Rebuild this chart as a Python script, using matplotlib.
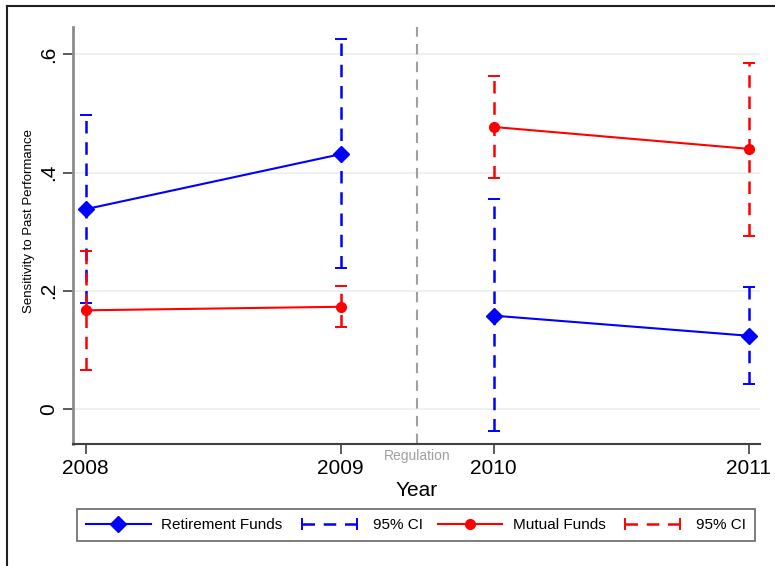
import matplotlib
matplotlib.use("Agg")
import matplotlib.pyplot as plt
from matplotlib.lines import Line2D
from matplotlib.legend_handler import HandlerLine2D

plt.rcParams['font.family'] = ['Liberation Sans', 'DejaVu Sans']

# data
years = ["2008", "2009", "2010", "2011"]
xpos = [0, 1, 1.6, 2.6]          # gap after regulation is narrower
reg_x = 1.3

ret = [0.338, 0.431, 0.158, 0.124]
ret_lo = [0.180, 0.238, -0.037, 0.043]
ret_hi = [0.497, 0.626, 0.356, 0.207]

mut = [0.167, 0.173, 0.477, 0.440]
mut_lo = [0.066, 0.138, 0.390, 0.293]
mut_hi = [0.267, 0.208, 0.563, 0.585]

yticks = [0, 0.2, 0.4, 0.6]
ylabels = ["0", ".2", ".4", ".6"]

fig = plt.figure(figsize=(7.75, 5.66), dpi=100)
ax = fig.add_axes([73/775, 1 - 444/566, (760 - 73)/775, (444 - 27)/566])

for y in yticks:
    ax.axhline(y, color='#eaf0f1', lw=1.3, zorder=0)

ax.axvline(reg_x, color='#a0a0a0', lw=1.5, ls=(0, (5, 3.5)), zorder=1)


def ci(x, lo, hi, col):
    for xi, l, h in zip(x, lo, hi):
        ax.plot([xi, xi], [l, h], color=col, lw=1.8, ls=(0, (5, 3.5)), zorder=2)
        ax.plot([xi, xi], [l, h], color=col, lw=0, marker='_', ms=9, mew=1.4, zorder=2)


ci(xpos, ret_lo, ret_hi, 'blue')
ci(xpos, mut_lo, mut_hi, 'red')

# solid lines break at the regulation
for a, b in [(0, 2), (2, 4)]:
    ax.plot(xpos[a:b], ret[a:b], color='blue', lw=1.5, marker='D', ms=8.5, zorder=3)
    ax.plot(xpos[a:b], mut[a:b], color='red', lw=1.5, marker='o', ms=7, zorder=3)

ax.set_xlim(-0.05, 2.645)
ax.set_ylim(-0.059, 0.646)
ax.set_xticks(xpos)
ax.set_xticklabels(years, fontsize=15)
ax.set_yticks(yticks)
ax.set_yticklabels(ylabels, fontsize=15, rotation=90, va='center')
ax.tick_params(axis='both', length=7, width=1.2, color='#404040', pad=4)

for s in ['top', 'right']:
    ax.spines[s].set_visible(False)
ax.spines['left'].set_color('#8c8c8c')
ax.spines['left'].set_linewidth(2)
ax.spines['bottom'].set_color('#404040')
ax.spines['bottom'].set_linewidth(1.5)

ax.set_xlabel("Year", fontsize=15, labelpad=2)
ax.set_ylabel("Sensitivity to Past Performance", fontsize=9.5, labelpad=2.5)
ax.yaxis.label.set_y(0.535)
ax.text(reg_x, -0.068, "Regulation", color='#a0a0a0', fontsize=10,
        ha='center', va='top', transform=ax.transData)

h_ret = Line2D([], [], color='blue', lw=1.5, marker='D', ms=8.5)
h_rci = Line2D([], [], color='blue', lw=1.8, ls=(0, (5, 3.5)), marker='|', ms=9, mew=1.4)
h_mut = Line2D([], [], color='red', lw=1.5, marker='o', ms=7)
h_mci = Line2D([], [], color='red', lw=1.8, ls=(0, (5, 3.5)), marker='|', ms=9, mew=1.4)
leg = fig.legend([h_ret, h_rci, h_mut, h_mci],
                 ["Retirement Funds", "95% CI", "Mutual Funds", "95% CI"],
                 ncol=4, loc='center', bbox_to_anchor=(416/775, 1 - 525/566),
                 fontsize=11, frameon=True, fancybox=False, handlelength=4.2,
                 handletextpad=0.7, columnspacing=1.0, borderpad=0.6,
                 handler_map={h_rci: HandlerLine2D(numpoints=2),
                              h_mci: HandlerLine2D(numpoints=2),
                              h_ret: HandlerLine2D(numpoints=1),
                              h_mut: HandlerLine2D(numpoints=1)})
leg.get_frame().set_edgecolor('#404040')
leg.get_frame().set_linewidth(1.2)

# outer frame visible on left and top
fig.add_artist(Line2D([7/775, 7/775], [0, 1 - 6/566], color='#202020', lw=1.5, transform=fig.transFigure))
fig.add_artist(Line2D([7/775, 1], [1 - 6/566, 1 - 6/566], color='#202020', lw=1.5, transform=fig.transFigure))

fig.savefig("out.png", dpi=100)
